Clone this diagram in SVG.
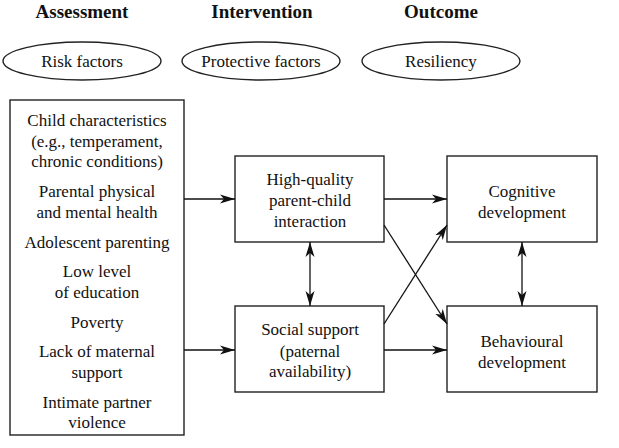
<svg xmlns="http://www.w3.org/2000/svg" width="619" height="448" viewBox="0 0 619 448">
<style>
text{font-family:"Liberation Serif","DejaVu Serif","Noto Serif","Times New Roman",Times,FreeSerif,Georgia,serif;font-size:17px;fill:#111;text-anchor:middle}
.h{font-weight:bold;font-size:19px}
.b{fill:#fff;stroke:#222;stroke-width:1.4}
.c{stroke:#111;stroke-width:1.3;fill:none}
</style>
<defs>
<marker id="ah" markerUnits="userSpaceOnUse" markerWidth="16" markerHeight="10" refX="15" refY="5" orient="auto-start-reverse" viewBox="0 0 16 10">
<path d="M0,0.5 L15,5 L0,9.5 L4,5 Z" fill="#111"/>
</marker>
</defs>
<g id="headers" font-family="Liberation Serif">
<text class="h" x="82" y="18">Assessment</text>
<text class="h" x="262" y="18">Intervention</text>
<text class="h" x="441" y="18">Outcome</text>
</g>
<g id="risk">
<ellipse class="b" cx="82" cy="61" rx="79" ry="19"/>
<text x="82" y="67">Risk factors</text>
</g>
<g id="protective">
<ellipse class="b" cx="261" cy="61" rx="79" ry="19"/>
<text x="261" y="67">Protective factors</text>
</g>
<g id="resiliency">
<ellipse class="b" cx="441" cy="61" rx="79" ry="19"/>
<text x="441" y="67">Resiliency</text>
</g>
<g id="riskbox">
<rect class="b" x="10" y="100" width="174" height="335"/>
<text x="97" y="126">Child characteristics</text>
<text x="97" y="147">(e.g., temperament,</text>
<text x="97" y="167">chronic conditions)</text>
<text x="97" y="197">Parental physical</text>
<text x="97" y="218">and mental health</text>
<text x="97" y="248">Adolescent parenting</text>
<text x="97" y="277">Low level</text>
<text x="97" y="298">of education</text>
<text x="97" y="328">Poverty</text>
<text x="97" y="357">Lack of maternal</text>
<text x="97" y="378">support</text>
<text x="97" y="408">Intimate partner</text>
<text x="97" y="428">violence</text>
</g>
<g id="hq">
<rect class="b" x="235" y="156" width="149" height="86"/>
<text x="310" y="185">High-quality</text>
<text x="310" y="206">parent-child</text>
<text x="310" y="227">interaction</text>
</g>
<g id="social">
<rect class="b" x="235" y="306" width="149" height="86"/>
<text x="310" y="335">Social support</text>
<text x="310" y="357">(paternal</text>
<text x="310" y="377">availability)</text>
</g>
<g id="cognitive">
<rect class="b" x="447" y="156" width="150" height="86"/>
<text x="522" y="197">Cognitive</text>
<text x="522" y="218">development</text>
</g>
<g id="behavioural">
<rect class="b" x="447" y="306" width="150" height="86"/>
<text x="522" y="347">Behavioural</text>
<text x="522" y="368">development</text>
</g>
<g id="connectors">
<line class="c" x1="184" y1="199" x2="235" y2="199" marker-end="url(#ah)"/>
<line class="c" x1="184" y1="350" x2="235" y2="350" marker-end="url(#ah)"/>
<line class="c" x1="384" y1="199" x2="447" y2="199" marker-end="url(#ah)"/>
<line class="c" x1="384" y1="350" x2="447" y2="350" marker-end="url(#ah)"/>
<line class="c" x1="384" y1="225" x2="447" y2="324" marker-end="url(#ah)"/>
<line class="c" x1="384" y1="324" x2="447" y2="225" marker-end="url(#ah)"/>
<line class="c" x1="310" y1="242" x2="310" y2="306" marker-start="url(#ah)" marker-end="url(#ah)"/>
<line class="c" x1="522" y1="242" x2="522" y2="306" marker-start="url(#ah)" marker-end="url(#ah)"/>
</g>
</svg>
